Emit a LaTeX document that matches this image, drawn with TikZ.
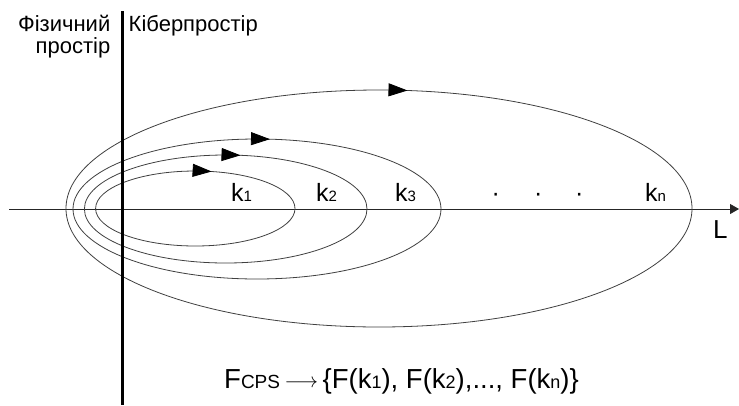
\documentclass[tikz,border=0pt]{standalone}
\usepackage{fontspec}
\setmainfont{Liberation Sans}
\usetikzlibrary{arrows.meta,decorations.markings}
\newcommand\subsm[1]{{\fontsize{15}{15}\selectfont #1}}
\newcommand\subfa[1]{{\fontsize{19}{19}\selectfont #1}}
\newcommand\subfb[1]{{\fontsize{18}{18}\selectfont #1}}
\begin{document}
\begin{tikzpicture}[x=1pt,y=-1pt,
  orbit/.style={draw=black!75, line width=0.8pt},
  flowat/.style={postaction={decorate},
    decoration={markings, mark=at position #1 with {\arrow[black]{Triangle[length=19pt,width=13pt]}}}},
  toplbl/.style={inner sep=0pt, font=\fontsize{22}{26}\selectfont},
  klbl/.style={inner sep=0pt, anchor=base west, font=\fontsize{25}{30}\selectfont},
  dotlbl/.style={inner sep=0pt, anchor=base, font=\fontsize{25}{30}\selectfont},
  formula/.style={inner sep=0pt, anchor=base west, font=\fontsize{27.5}{31}\selectfont}
]
\fill[white] (0,0) rectangle (739,405);
\useasboundingbox (0,0) rectangle (739,405);

% axes
\coordinate (axL) at (9,209);
\coordinate (axR) at (739,209);
\coordinate (vT) at (122.5,11);
\coordinate (vB) at (122.5,405);
\draw[line width=0.8pt, draw=black!85, -{Triangle[length=9pt,width=10pt]}] (axL) -- (axR);

% orbits
\draw[orbit, flowat=0.786] (295,208.5) arc[start angle=0, end angle=-360, x radius=99.7pt, y radius=37.5pt];
\draw[orbit, flowat=0.773] (367,209) arc[start angle=0, end angle=-360, x radius=141.3pt, y radius=54pt];
\draw[orbit, flowat=0.7655] (441,209) arc[start angle=0, end angle=-360, x radius=184pt, y radius=70pt];
\draw[orbit, flowat=0.770] (692,208.5) arc[start angle=0, end angle=-360, x radius=313pt, y radius=118.5pt];

% boundary line
\draw[line width=3pt] (vT) -- (vB);

% labels
\node[toplbl, anchor=base east] (phys1) at (110.5,31) {Фізичний};
\node[toplbl, anchor=base east] (phys2) at (110.5,53) {простір};
\node[toplbl, anchor=base west] (cyber) at (128.5,31) {Кіберпростір};

\node[klbl] (k1) at (231,201) {k\subsm{1}};
\node[klbl] (k2) at (316,201) {k\subsm{2}};
\node[klbl] (k3) at (395,201.5) {k\subsm{3}};
\node[klbl] (kn) at (645,201) {k\subsm{n}};
\node[dotlbl] (d1) at (495.7,201) {·};
\node[dotlbl] (d2) at (538.3,201) {·};
\node[dotlbl] (d3) at (579.3,201) {·};
\node[klbl, font=\fontsize{26}{30}\selectfont] (L) at (713,238) {L};

\node[formula] (f) at (224,388) {F\subfa{CPS}\,\raisebox{1pt}{\fontsize{21}{21}\selectfont$\longrightarrow$}\,\{F(k\subfb{1}), F(k\subfb{2}),..., F(k\subfb{n})\}};
\end{tikzpicture}
\end{document}
